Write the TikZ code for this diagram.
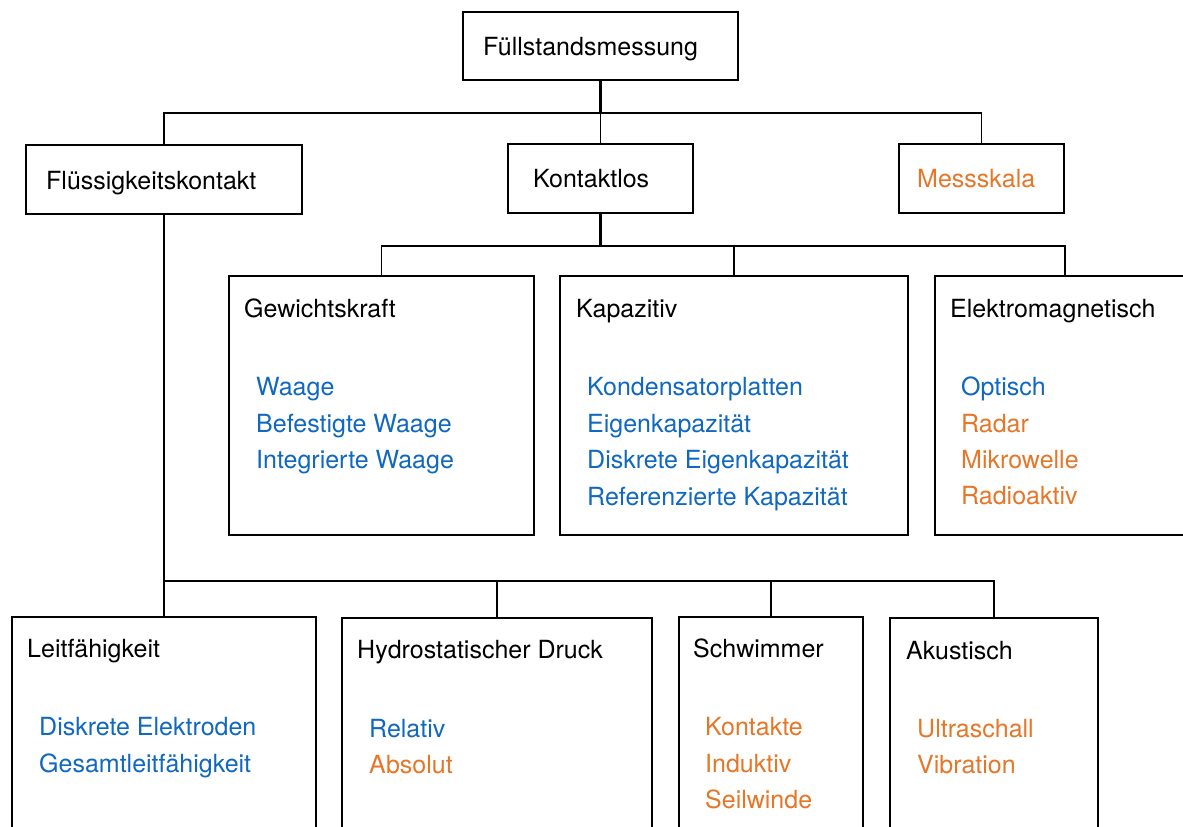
\documentclass[tikz,border=0pt]{standalone}
\usepackage{fontspec}
\setmainfont{TeX Gyre Heros}
\definecolor{itemblue}{RGB}{16,104,192}
\definecolor{itemorange}{RGB}{230,118,40}
\begin{document}
\begin{tikzpicture}[x=1pt,y=-1pt,
  font=\fontsize{25}{30}\selectfont,
  box/.style={draw=black, line width=1.6pt, fill=white, inner sep=0pt, anchor=north west},
  lbl/.style={inner sep=0pt, anchor=base west, text=black},
  blu/.style={lbl, text=itemblue},
  org/.style={lbl, text=itemorange},
  bar/.style={line width=1.5pt},
  trunk/.style={line width=2.4pt}]
\useasboundingbox (0,0) rectangle (1183,827);
\clip (0,0) rectangle (1183,827);

% first level
\node[box, minimum width=275pt, minimum height=68pt] (top) at (462,11) {};
\node[box, minimum width=276pt, minimum height=69pt] (fk) at (25,144) {};
\node[box, minimum width=185pt, minimum height=69pt] (kl) at (507,143) {};
\node[box, minimum width=165pt, minimum height=69pt] (ms) at (898,143) {};

\node[lbl] (tTop) at (483,55) {Füllstandsmessung};
\node[lbl] (tFk) at (46,189) {Flüssigkeitskontakt};
\node[lbl] (tKl) at (533,187) {Kontaktlos};
\node[org] (tMs) at (917,187) {Messskala};

% contactless methods
\node[box, minimum width=305pt, minimum height=259pt] (gk) at (228,275) {};
\node[box, minimum width=348pt, minimum height=259pt] (kp) at (559,275) {};
\node[box, minimum width=260pt, minimum height=259pt] (em) at (934,275) {};

\node[lbl] (tGk) at (244,317) {Gewichtskraft};
\node[blu] (gk1) at (256,395) {Waage};
\node[blu] (gk2) at (256,432) {Befestigte Waage};
\node[blu] (gk3) at (256,468) {Integrierte Waage};

\node[lbl] (tKp) at (576,317) {Kapazitiv};
\node[blu] (kp1) at (587,395) {Kondensatorplatten};
\node[blu] (kp2) at (587,432) {Eigenkapazität};
\node[blu] (kp3) at (587,468) {Diskrete Eigenkapazität};
\node[blu] (kp4) at (587,505) {Referenzierte Kapazität};

\node[lbl] (tEm) at (950,317) {Elektromagnetisch};
\node[blu] (em1) at (961,395) {Optisch};
\node[org] (em2) at (961,432) {Radar};
\node[org] (em3) at (961,468) {Mikrowelle};
\node[org] (em4) at (961,504) {Radioaktiv};

% liquid-contact methods
\node[box, minimum width=304pt, minimum height=240pt] (lf) at (11,616) {};
\node[box, minimum width=310pt, minimum height=240pt] (hd) at (341,617) {};
\node[box, minimum width=184pt, minimum height=240pt] (sw) at (678,616) {};
\node[box, minimum width=208pt, minimum height=240pt] (ak) at (889,617) {};

\node[lbl] (tLf) at (27,657) {Leitfähigkeit};
\node[blu] (lf1) at (39,735) {Diskrete Elektroden};
\node[blu] (lf2) at (39,772) {Gesamtleitfähigkeit};

\node[lbl] (tHd) at (357,658) {Hydrostatischer Druck};
\node[blu] (hd1) at (369,737) {Relativ};
\node[org] (hd2) at (369,773) {Absolut};

\node[lbl] (tSw) at (693,657) {Schwimmer};
\node[org] (sw1) at (705,735) {Kontakte};
\node[org] (sw2) at (705,772) {Induktiv};
\node[org] (sw3) at (705,808) {Seilwinde};

\node[lbl] (tAk) at (906,659) {Akustisch};
\node[org] (ak1) at (917,737) {Ultraschall};
\node[org] (ak2) at (917,773) {Vibration};

% bus lines
\coordinate (j0) at (599,113);
\coordinate (j1) at (599,246);
\coordinate (j2) at (163,581);

% root -> first level
\draw[trunk] (top.south) -- (top.south |- j0);
\draw[bar] (fk.north) -- (fk.north |- j0) -- (ms.north |- j0) -- (ms.north);
\draw[bar] (top.south |- j0) -- (kl.north);

% contactless -> methods
\draw[trunk] (kl.south) -- (kl.south |- j1);
\draw[bar] (gk.north) -- (gk.north |- j1) -- (em.north |- j1) -- (em.north);
\draw[bar] (kp.north |- j1) -- (kp.north);

% liquid contact -> methods
\draw[trunk] (fk.south) -- (fk.south |- j2);
\draw[bar] (lf.north) -- (lf.north |- j2) -- (ak.north |- j2) -- (ak.north);
\draw[bar] (hd.north |- j2) -- (hd.north);
\draw[bar] (sw.north |- j2) -- (sw.north);
\end{tikzpicture}
\end{document}
